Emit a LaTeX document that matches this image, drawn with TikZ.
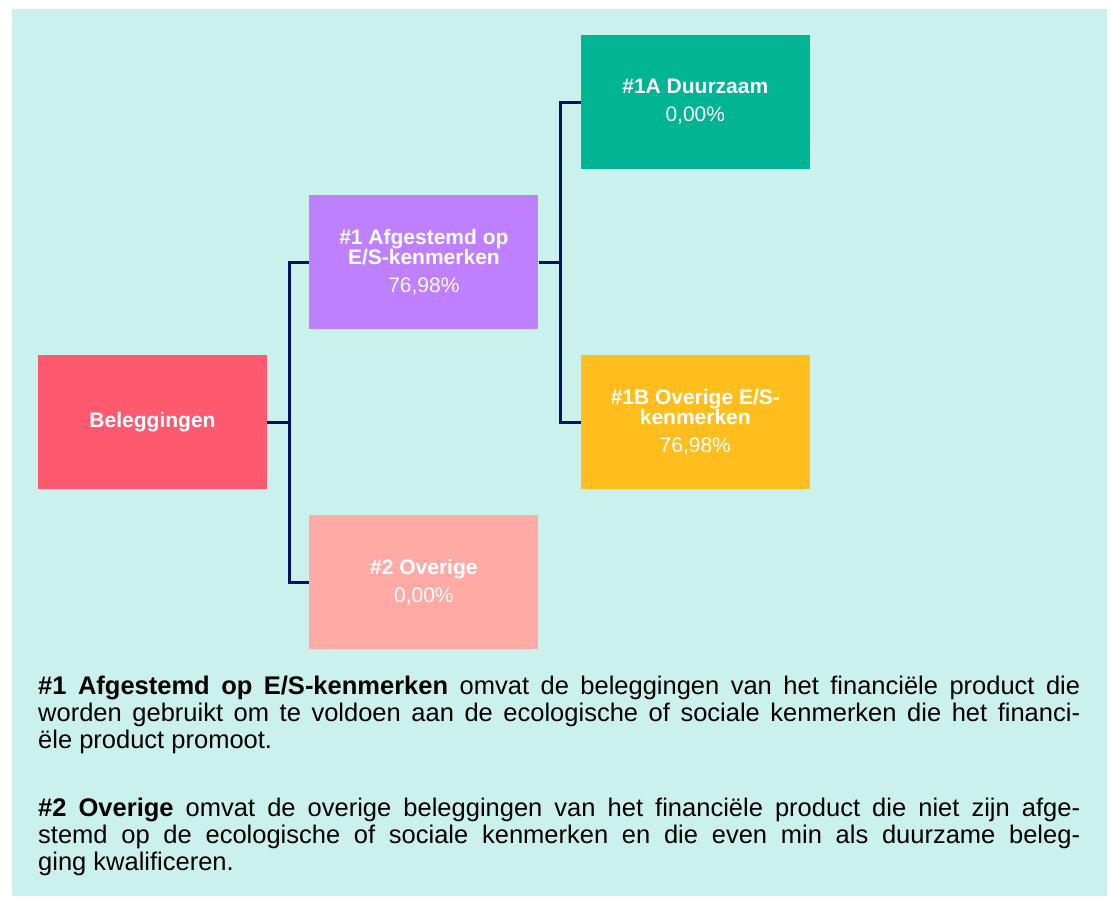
\documentclass[tikz,border=0pt]{standalone}
\usepackage{fontspec}
\setmainfont{Liberation Sans}
\definecolor{BgMint}{RGB}{202, 241, 236}
\definecolor{LinkNavy}{RGB}{0, 16, 102}
\definecolor{BelRed}{RGB}{255, 89, 111}
\definecolor{AesPurple}{RGB}{191, 128, 255}
\definecolor{OvrSalmon}{RGB}{255, 170, 165}
\definecolor{DuuTeal}{RGB}{0, 180, 148}
\definecolor{EsYellow}{RGB}{255, 190, 30}
\usetikzlibrary{positioning}

\begin{document}
\begin{tikzpicture}[
            x=1pt, y=-1pt,
            node distance=42pt,
            box/.style={rectangle, draw=none, text=white, minimum width=229pt,
                        minimum height=134pt, inner sep=0pt, align=center,
                        font=\fontsize{21}{20}\selectfont},
            link/.style={line width=3pt, LinkNavy},
            legend/.style={anchor=north west, inner sep=0pt, text width=1042pt,
                        align=justify, font=\fontsize{25.5}{27}\selectfont}
        ]
            \useasboundingbox (0,0) rectangle (1114,898);
            \fill[BgMint] (12,9) rectangle (1107,896);

            % Level 1
            \node[box, fill=BelRed] (bel) at (152.5,422) {\textbf{Beleggingen}};

            % Level 2
            \node[box, fill=AesPurple, right=of bel, yshift=160pt] (aes)
                {\textbf{\#1 Afgestemd op}\\\textbf{E/S-kenmerken}\\[8pt]76,98\%};
            \node[box, fill=OvrSalmon, right=of bel, yshift=-160pt] (ovr)
                {\textbf{\#2 Overige}\\[8pt]0,00\%};

            % Level 3
            \node[box, fill=DuuTeal, right=of aes, yshift=160pt] (duu)
                {\textbf{\#1A Duurzaam}\\[8pt]0,00\%};
            \node[box, fill=EsYellow, right=of aes, yshift=-160pt] (oes)
                {\textbf{\#1B Overige E/S-}\\\textbf{kenmerken}\\[8pt]76,98\%};

            % Connectors
            \draw[link] (bel.east) -- ++(22,0) |- (aes.west);
            \draw[link] (bel.east) -- ++(22,0) |- (ovr.west);
            \draw[link] (aes.east) -- ++(22,0) |- (duu.west);
            \draw[link] (aes.east) -- ++(22,0) |- (oes.west);

            % Legend
            \node[legend] (leg1) at (38,676) {\textbf{\#1 Afgestemd op E/S-kenmerken} omvat de beleggingen van het financiële product die\linebreak
                worden gebruikt om te voldoen aan de ecologische of sociale kenmerken die het financi-\linebreak
                ële product promoot.};
            \node[legend] (leg2) at (38,798) {\textbf{\#2 Overige} omvat de overige beleggingen van het financiële product die niet zijn afge-\linebreak
                stemd op de ecologische of sociale kenmerken en die even min als duurzame beleg-\linebreak
                ging kwalificeren.};
        \end{tikzpicture}
\end{document}
